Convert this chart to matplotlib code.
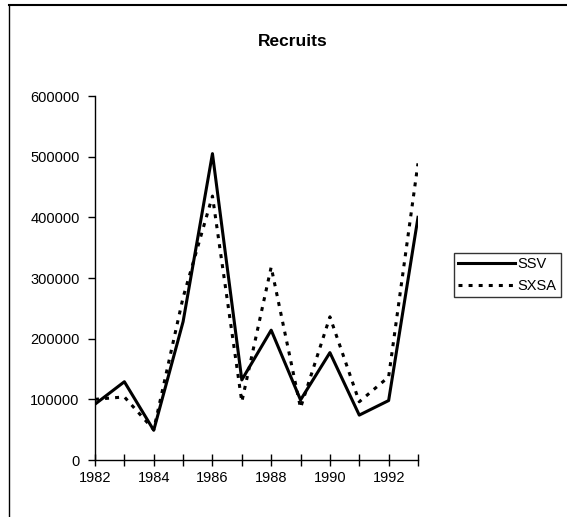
import matplotlib.pyplot as plt
from matplotlib.lines import Line2D

plt.rcParams['font.family'] = ['Liberation Sans', 'DejaVu Sans']

years = [1982, 1983, 1984, 1985, 1986, 1987, 1988, 1989, 1990, 1991, 1992, 1993]
ssv = [92000, 129000, 49000, 228000, 505000, 132000, 214000, 99000, 177000, 74000, 98000, 400000]
sxsa = [100000, 104000, 50000, 268000, 435000, 96000, 318000, 86000, 236000, 96000, 137000, 489000]

W, H = 567, 517
fig = plt.figure(figsize=(W / 100, H / 100), dpi=100)
ax = fig.add_axes([95 / W, 1 - 460 / H, (418 - 95) / W, (460 - 96) / H])

ax.plot(years, ssv, color='black', lw=2.2, label='SSV')
ax.plot(years, sxsa, color='black', lw=2.2, dashes=(1.3, 2.0), label='SXSA')

ax.set_xlim(1982, 1993)
ax.set_ylim(0, 600000)
ax.set_xticks(years)
ax.set_xticklabels([str(y) if y % 2 == 0 else '' for y in years])
ax.set_yticks(range(0, 600001, 100000))
ax.set_yticklabels([str(v) for v in range(0, 600001, 100000)])
ax.tick_params(axis='x', direction='inout', length=8, width=1, labelsize=10.5, pad=4)
ax.tick_params(axis='y', direction='out', length=5, width=1, labelsize=10.5, pad=6)
for s in ['top', 'right']:
    ax.spines[s].set_visible(False)
for s in ['left', 'bottom']:
    ax.spines[s].set_linewidth(1)

fig.text(293 / W, 1 - 42 / H, 'Recruits', ha='center', va='center',
         fontsize=12.5, fontweight='bold')

leg = fig.legend(loc='upper left', bbox_to_anchor=(454 / W, 1 - 253 / H),
                 frameon=True, fancybox=False, edgecolor='black',
                 fontsize=10.5, handlelength=3.9, handletextpad=0.15,
                 borderpad=0.3, labelspacing=0.5, borderaxespad=0)
leg.get_frame().set_linewidth(1)

# outer chart border (top and left visible)
fig.add_artist(Line2D([9 / W, 9 / W], [0, 1 - 5 / H], transform=fig.transFigure, color='black', lw=1))
fig.add_artist(Line2D([9 / W, 1], [1 - 5 / H, 1 - 5 / H], transform=fig.transFigure, color='black', lw=1.5))

fig.savefig('out.png', dpi=100)
